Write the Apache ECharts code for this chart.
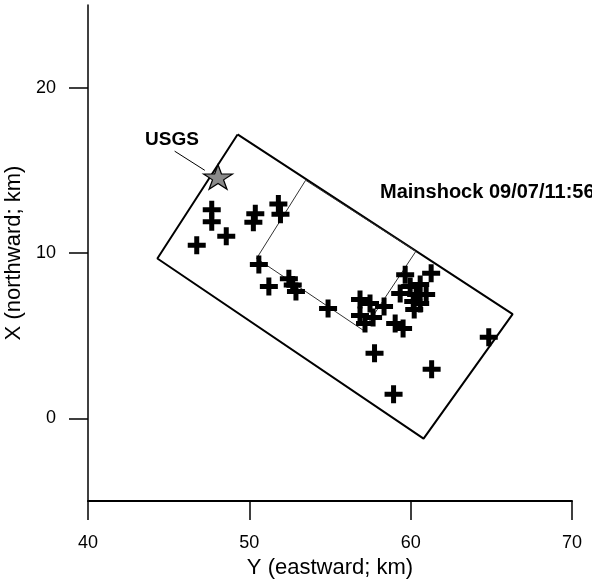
<!DOCTYPE html>
<html>
<head>
<meta charset="utf-8">
<script src="https://cdn.jsdelivr.net/npm/echarts@6/dist/echarts.min.js"></script>
<style>
  html, body { margin: 0; padding: 0; background: #fff; }
  #chart { width: 592px; height: 581px; }
</style>
</head>
<body>
<div id="chart"></div>
<script>
// Aftershock epicentres (Y eastward, X northward, km)
const eastKm = [47.67, 47.67, 48.57, 46.74, 50.37, 50.25, 51.80, 51.93, 50.59, 51.21,
                52.45, 52.69, 52.89, 54.88, 56.86, 57.48, 56.86, 57.17, 57.67, 58.35,
                59.04, 59.53, 57.76, 59.66, 61.27, 59.35, 59.97, 60.59, 60.96, 60.16,
                60.22, 60.59, 60.34, 61.30, 58.94, 64.84];
const northKm = [12.61, 11.89, 11.01, 10.47, 12.37, 11.86, 12.97, 12.34, 9.30, 7.97,
                 8.45, 8.06, 7.67, 6.64, 7.19, 6.95, 6.22, 5.74, 6.10, 6.77,
                 5.74, 5.44, 3.93, 8.69, 8.78, 7.55, 7.97, 8.09, 7.49, 7.07,
                 6.58, 6.95, 7.49, 2.97, 1.46, 4.90];

// Surface projection of the model fault (outer box) and the slip patch (inner box)
const outerBoxE = [49.27, 66.32, 60.80, 44.30, 49.27];
const outerBoxN = [17.17, 6.30, -1.23, 9.67, 17.17];
const innerBoxE = [53.49, 60.32, 57.07, 50.45, 53.49];
const innerBoxN = [14.40, 10.10, 5.32, 9.67, 14.40];

// USGS epicentre and the leader line to its label
const usgsE = [48.06];
const usgsN = [14.60];
const leaderE = [45.37, 47.24];
const leaderN = [16.16, 15.00];

// Axis ticks
const xTicks = [40, 50, 60, 70];
const yTicks = [0, 10, 20];

const zip = (a, b) => a.map((v, i) => [v, b[i]]);

const FONT = "'Liberation Sans', Arial, Helvetica, sans-serif";
const CROSS = 'path://M6.5,0H11.5V6.5H18V11.5H11.5V18H6.5V11.5H0V6.5H6.5Z';
const STAR = 'path://M100,0L122.45,69.1L195.1,69.1L136.3,111.8L158.8,180.9L100,138.2L41.2,180.9L63.7,111.8L4.9,69.1L77.55,69.1Z';

const chart = echarts.init(document.getElementById('chart'), null, { renderer: 'canvas' });

chart.setOption({
  animation: false,
  backgroundColor: '#fff',
  grid: { left: 88, right: 20, top: 5, bottom: 80, containLabel: false, outerBoundsMode: 'none' },
  xAxis: {
    type: 'value', min: 40, max: 70, interval: 10,
    name: 'Y (eastward; km)', nameLocation: 'middle', nameGap: 55,
    nameTextStyle: { fontFamily: FONT, fontSize: 22, color: '#000' },
    axisLine: { show: true, onZero: false, lineStyle: { color: '#000', width: 2 } },
    axisTick: { show: true, inside: false, length: 19, customValues: xTicks, lineStyle: { color: '#000', width: 1.5 } },
    axisLabel: { show: true, margin: 33, customValues: xTicks, fontFamily: FONT, fontSize: 18, color: '#000' },
    splitLine: { show: false }
  },
  yAxis: {
    type: 'value', min: -5, max: 25,
    name: 'X (northward; km)', nameLocation: 'middle', nameGap: 54,
    nameTextStyle: { fontFamily: FONT, fontSize: 22, color: '#000' },
    axisLine: { show: true, onZero: false, lineStyle: { color: '#000', width: 1.5 } },
    axisTick: { show: true, inside: false, length: 19, customValues: yTicks, lineStyle: { color: '#000', width: 1.5 } },
    axisLabel: { show: true, margin: 32, customValues: yTicks, fontFamily: FONT, fontSize: 18, color: '#000' },
    splitLine: { show: false }
  },
  series: [
    {
      type: 'line', data: zip(outerBoxE, outerBoxN), symbol: 'none', silent: true,
      lineStyle: { color: '#000', width: 2 }, z: 2
    },
    {
      type: 'line', data: zip(innerBoxE, innerBoxN), symbol: 'none', silent: true,
      lineStyle: { color: '#333', width: 1 }, z: 2
    },
    {
      type: 'line', data: zip(leaderE, leaderN), symbol: 'none', silent: true,
      lineStyle: { color: '#000', width: 1 }, z: 2
    },
    {
      type: 'scatter', data: zip(eastKm, northKm), symbol: CROSS, symbolSize: 18,
      itemStyle: { color: '#000', opacity: 1 }, silent: true, z: 3
    },
    {
      type: 'scatter', data: zip(usgsE, usgsN), symbol: STAR, symbolSize: [29, 26],
      symbolKeepAspect: true,
      itemStyle: { color: '#8a8a8a', borderColor: '#000', borderWidth: 1.2, opacity: 1 },
      silent: true, z: 4
    }
  ],
  graphic: [
    {
      type: 'text', left: 145, top: 130,
      style: { text: 'USGS', fontFamily: FONT, fontWeight: 'bold', fontSize: 19, fill: '#000' }
    },
    {
      type: 'text', left: 380, top: 182,
      style: { text: 'Mainshock 09/07/11:56', fontFamily: FONT, fontWeight: 'bold', fontSize: 20, fill: '#000' }
    }
  ]
});
</script>
</body>
</html>
